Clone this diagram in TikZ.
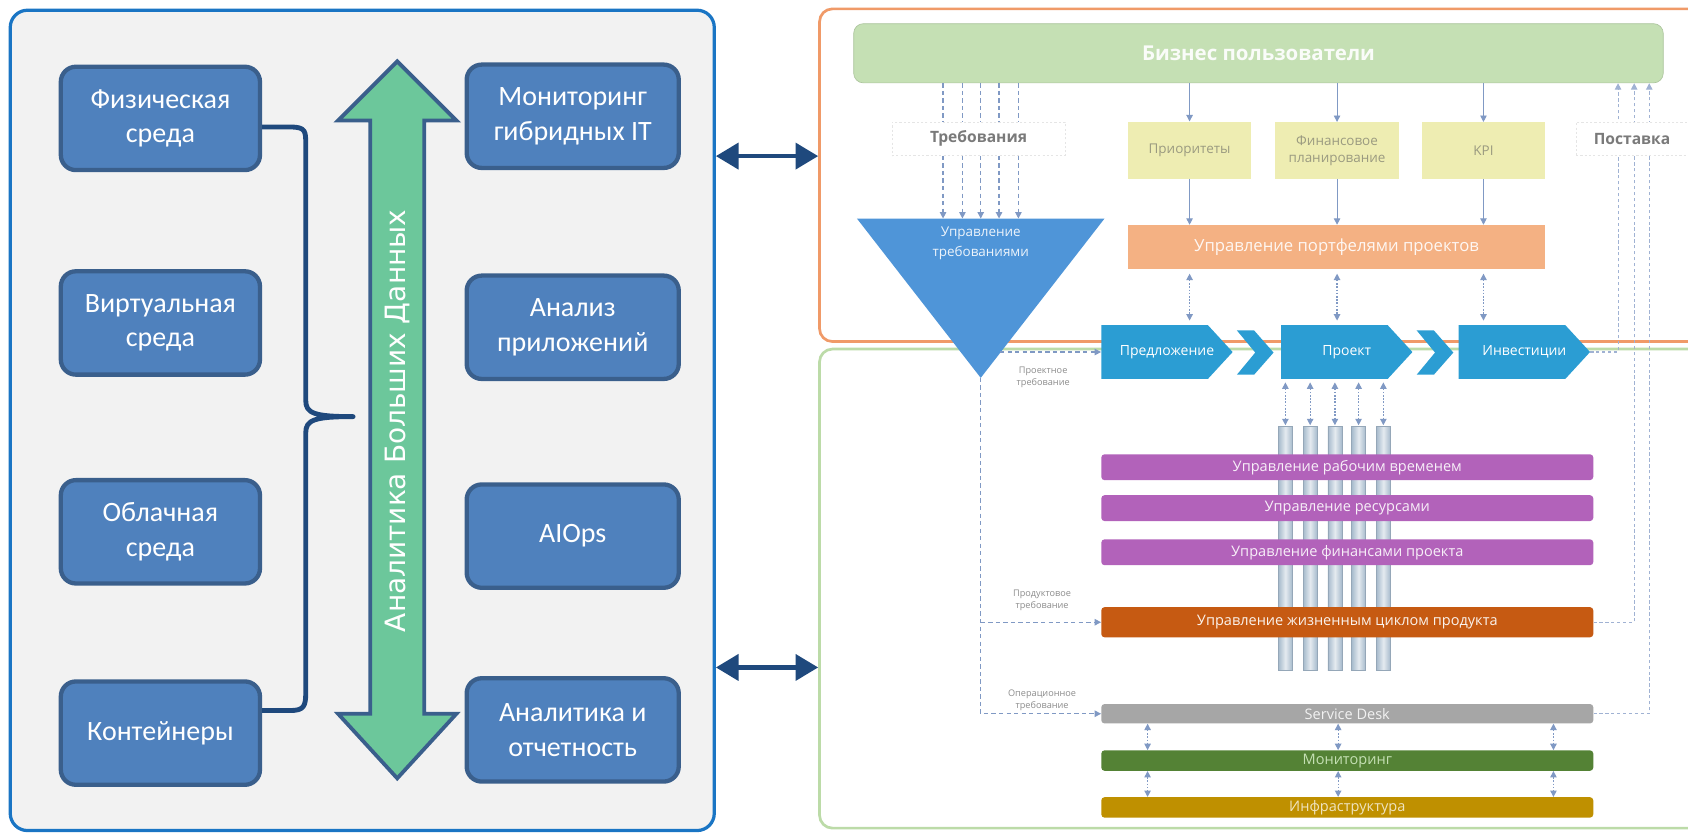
\documentclass[tikz,border=0pt]{standalone}
\usepackage{fontspec}
\setmainfont{Carlito}
\newfontfamily\djv{DejaVu Sans}
\newfontfamily\osf{Open Sans}
\usetikzlibrary{arrows.meta}
\definecolor{lpfill}{HTML}{F2F2F2}
\definecolor{lpedge}{HTML}{1A75C4}
\definecolor{bxfill}{HTML}{4F81BD}
\definecolor{bxedge}{HTML}{3A5F8C}
\definecolor{bigarr}{HTML}{6CC79B}
\definecolor{dblue}{HTML}{1F497D}
\definecolor{orpan}{HTML}{F09A68}
\definecolor{grpan}{HTML}{BCDBA8}
\definecolor{bizg}{HTML}{C5E0B4}
\definecolor{yel}{HTML}{EEEDB2}
\definecolor{yeltxt}{HTML}{9A9A80}
\definecolor{porto}{HTML}{F4B183}
\definecolor{tri}{HTML}{4F95D8}
\definecolor{chev}{HTML}{2B9DD3}
\definecolor{purp}{HTML}{B262BA}
\definecolor{lcmc}{HTML}{C65A12}
\definecolor{sdesk}{HTML}{A6A6A6}
\definecolor{monc}{HTML}{548235}
\definecolor{infc}{HTML}{BF9000}
\definecolor{pil}{HTML}{A6BACC}
\definecolor{dashc}{HTML}{8099C4}
\definecolor{lbl}{HTML}{8C8C8C}
\tikzset{
  lbox/.style={draw=bxedge, fill=bxfill, line width=4pt, rounded corners=14pt,
    minimum width=185pt, minimum height=96pt, text=white, align=center,
    font=\fontsize{26}{32}\selectfont},
  rbox/.style={lbox, minimum width=197pt},
  dl/.style={draw=dashc, line width=1.1pt, dash pattern=on 4pt off 3pt},
  dla/.style={dl, -{Triangle[length=6pt,width=6pt]}},
  dotboth/.style={draw=dashc, line width=1.1pt, dash pattern=on 1.5pt off 1.5pt,
    {Triangle[length=6pt,width=6pt]}-{Triangle[length=6pt,width=6pt]}},
  sola/.style={draw=dashc, line width=0.9pt, -{Triangle[length=6pt,width=6pt]}},
  rla/.style={draw=dashc!75, line width=1pt, dash pattern=on 3pt off 2.5pt,
    -{Triangle[length=6pt,width=6pt]}},
  rbar/.style={minimum width=457pt, rounded corners=3pt, inner sep=0pt,
    font=\osf\fontsize{13.5}{14}\selectfont, text=white},
  smlbl/.style={font=\osf\fontsize{8.5}{11}\selectfont, text=lbl, align=center},
  pillar/.style={draw=pil!90!black, line width=0.5pt, left color=pil, right color=pil, middle color=pil!30},
  dbarr/.style={draw=dblue, line width=4pt,
    {Triangle[length=21pt,width=24pt]}-{Triangle[length=21pt,width=24pt]}},
  yelbox/.style={fill=yel, minimum width=115pt, minimum height=53pt, text=yeltxt,
    align=center, font=\osf\fontsize{12.5}{16}\selectfont},
  chevtxt/.style={text=white, minimum width=122pt, minimum height=50pt,
    font=\osf\fontsize{13}{14}\selectfont},
  labbox/.style={fill=white, draw=black!10, dash pattern=on 2pt off 2pt, line width=0.6pt,
    minimum height=31pt, text=black!52, font=\osf\bfseries\fontsize{14.5}{16}\selectfont},
}
\begin{document}
\begin{tikzpicture}[x=1pt,y=-1pt]
\useasboundingbox (0,0) rectangle (1568,773);
\clip (0,0) rectangle (1568,773);
\fill[white] (0,0) rectangle (1568,773);

% panels
\node[draw=lpedge, fill=lpfill, line width=3pt, rounded corners=16pt, anchor=north west,
  minimum width=654pt, minimum height=762pt, inner sep=0pt] (lp) at (8,8) {};
\node[draw=orpan, line width=2.5pt, rounded corners=12pt, anchor=north west,
  minimum width=900pt, minimum height=309pt, inner sep=0pt] (orp) at (760,7) {};
\node[draw=grpan, line width=2.5pt, rounded corners=12pt, anchor=north west,
  minimum width=900pt, minimum height=445pt, inner sep=0pt] (grp) at (760,323) {};

% left boxes
\node[lbox] (fiz) at (149,110) {Физическая\\среда};
\node[lbox] (virt) at (149,300) {Виртуальная\\среда};
\node[lbox] (obl) at (149,494) {Облачная\\среда};
\node[lbox] (cont) at (149,681) {Контейнеры};
\node[rbox] (mhit) at (532,108) {Мониторинг\\гибридных IT};
\node[rbox] (anpr) at (532,304) {Анализ\\приложений};
\node[rbox] (aiops) at (532,498) {AIOps};
\node[rbox] (anot) at (532,678) {Аналитика и\\отчетность};

% brace
\coordinate (b1) at (0,118);
\coordinate (b2) at (0,660);
\coordinate (brtip) at (328,387);
\draw[dblue, line width=4.5pt, line join=round]
  (fiz.east |- b1) -- (270,118) .. controls (284,118) and (284,122) .. (284,134)
  -- (284,372) .. controls (284,384) and (292,387) .. (brtip)
  .. controls (292,387) and (284,390) .. (284,402)
  -- (284,644) .. controls (284,656) and (282,660) .. (270,660) -- (cont.east |- b2);

% big double arrow
\draw[fill=bigarr, draw=bxedge, line width=3.5pt, line join=miter]
  (369,57) -- (424,112) -- (394,112) -- (394,663) -- (424,663) -- (369,723)
  -- (314,663) -- (344,663) -- (344,112) -- (314,112) -- cycle;
\node[rotate=90, text=white, font=\djv\fontsize{26}{26}\selectfont] (bdt) at (369,391)
  {Аналитика Больших Данных};

% arrows between panels
\coordinate (ya) at (0,145);
\coordinate (yb) at (0,620);
\draw[dbarr] (lp.east |- ya) -- (orp.west |- ya);
\draw[dbarr] (lp.east |- yb) -- (grp.west |- yb);

% ===== right part =====
\node[fill=bizg, draw=bizg!88!black, line width=0.6pt, rounded corners=9pt,
  minimum width=752pt, minimum height=55pt, text=white!92!bizg,
  font=\osf\bfseries\fontsize{19}{20}\selectfont] (biz) at (1169,49.5) {Бизнес пользователи};
\node[labbox, minimum width=161pt] (req) at (909,129) {Требования};

% requirements triangle
\fill[tri] (796,203) -- (1026,203) -- (911,351) -- cycle;
\coordinate (tritop) at (911,203);
\coordinate (tritip) at (911,351);
\coordinate (trir) at (929,327);
\node[text=white!90!tri, align=center, font=\osf\fontsize{12.5}{19}\selectfont] (trit) at (911,226)
  {Управление\\требованиями};

\foreach \x in {876,894,911,928,946}{
  \coordinate (cx) at (\x,0);
  \draw[dl] (cx |- biz.south) -- (cx |- req.north);
  \draw[dla] (cx |- req.south) -- (cx |- tritop);
}

% yellow boxes and portfolio
\node[yelbox] (pri) at (1105,139.5) {Приоритеты};
\node[yelbox] (fin) at (1242,140) {Финансовое\\планирование};
\node[yelbox] (kpi) at (1378,140) {KPI};
\node[fill=porto, minimum width=387pt, minimum height=41pt, text=white!90!porto,
  font=\osf\fontsize{15.5}{16}\selectfont] (port) at (1241.5,229.5) {Управление портфелями проектов};
\foreach \n in {pri,fin,kpi}{
  \draw[sola] (\n.north |- biz.south) -- (\n.north);
  \draw[sola] (\n.south) -- (\n.south |- port.north);
}

% chevrons
\fill[chev] (1023,302) -- (1122,302) -- (1145,327) -- (1122,352) -- (1023,352) -- cycle;
\fill[chev] (1149,307) -- (1165,307) -- (1183,327.5) -- (1165,348) -- (1149,348) -- (1166,327.5) -- cycle;
\fill[chev] (1190,302) -- (1289,302) -- (1312,327) -- (1289,352) -- (1190,352) -- cycle;
\fill[chev] (1316,307) -- (1332,307) -- (1350,327.5) -- (1332,348) -- (1316,348) -- (1333,327.5) -- cycle;
\fill[chev] (1355,302) -- (1454,302) -- (1477,327) -- (1454,352) -- (1355,352) -- cycle;
\node[chevtxt] (prop) at (1084,327) {Предложение};
\node[chevtxt] (proj) at (1251,327) {Проект};
\node[chevtxt] (inv) at (1416,327) {Инвестиции};
\draw[dotboth, shorten <=4pt, shorten >=4pt] (pri.south |- port.south) -- (pri.south |- prop.north);
\draw[dotboth, shorten <=4pt, shorten >=4pt] (fin.south |- port.south) -- (fin.south |- proj.north);
\draw[dotboth, shorten <=4pt, shorten >=4pt] (kpi.south |- port.south) -- (kpi.south |- inv.north);

% pillars
\coordinate (ptop) at (0,396);
\foreach \x in {1194,1217,1240,1262,1285}{
  \path[pillar] (\x-6.5,396) rectangle (\x+6.5,623);
  \coordinate (px) at (\x,0);
  \draw[dotboth, shorten <=3pt, shorten >=1pt] (px |- proj.south) -- (px |- ptop);
}

% bars
\node[rbar, fill=purp, minimum height=24pt, text=white!90!purp] (b1n) at (1251.5,434) {Управление рабочим временем};
\node[rbar, fill=purp, minimum height=24pt, text=white!90!purp] (b2n) at (1251.5,472) {Управление ресурсами};
\node[rbar, fill=purp, minimum height=24pt, text=white!90!purp] (b3n) at (1251.5,513) {Управление финансами проекта};
\node[rbar, fill=lcmc, minimum height=28pt, text=white!92!lcmc] (lcm) at (1251.5,578) {Управление жизненным циклом продукта};
\node[rbar, fill=sdesk, minimum height=18pt, text=white!85!sdesk] (sd) at (1251.5,663) {Service Desk};
\node[rbar, fill=monc, minimum height=19pt, text=bizg] (mon) at (1251.5,706.5) {Мониторинг};
\node[rbar, fill=infc, minimum height=19pt, text=white!75!infc] (inf) at (1251.5,750) {Инфраструктура};

% requirement flows
\draw[dla] (trir) -- (prop.west);
\draw[dla] (tritip) -- (tritip |- sd.west) -- (sd.west);
\draw[dla] (tritip |- lcm.west) -- (lcm.west);
\node[smlbl] (l1) at (969,350.5) {Проектное\\требование};
\node[smlbl] (l2) at (968,558) {Продуктовое\\требование};
\node[smlbl] (l3) at (968,650.5) {Операционное\\требование};

% arrows between operational layers
\foreach \x in {1066,1243,1443}{
  \coordinate (bx) at (\x,0);
  \draw[dotboth] (bx |- sd.south) -- (bx |- mon.north);
  \draw[dotboth] (bx |- mon.south) -- (bx |- inf.north);
}

% delivery return lines
\coordinate (r1) at (1503,327);
\coordinate (r2) at (1518,578);
\coordinate (r3) at (1532,663);
\draw[rla] (inv.east) -- (r1) -- (r1 |- biz.south);
\draw[rla] (lcm.east) -- (r2) -- (r2 |- biz.south);
\draw[rla] (sd.east) -- (r3) -- (r3 |- biz.south);
\node[labbox, minimum width=104pt] (post) at (1516,129) {Поставка};
\end{tikzpicture}
\end{document}
